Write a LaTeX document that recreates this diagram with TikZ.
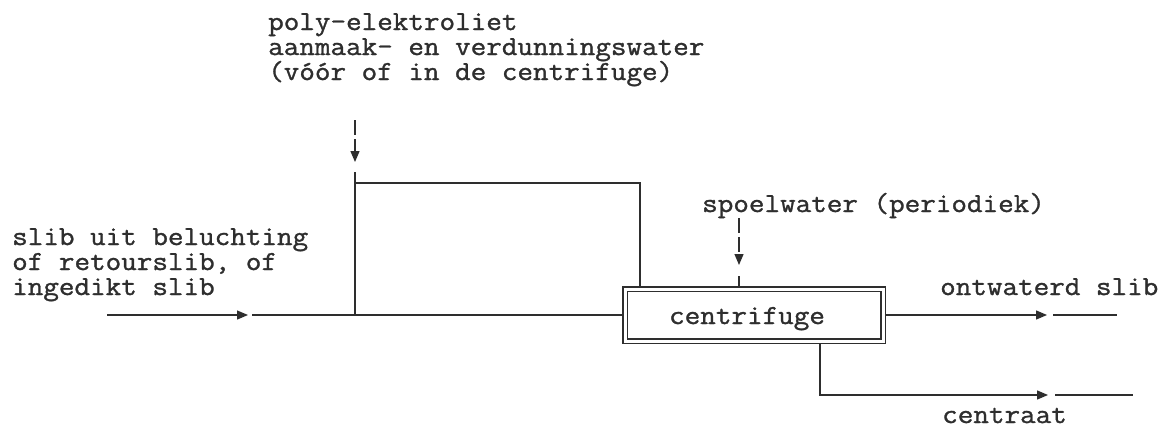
\documentclass[tikz,border=0pt]{standalone}
\usepackage{fontspec}
\newfontfamily\diagtt[FakeStretch=1.1, FakeBold=1.2]{Latin Modern Mono}
\usetikzlibrary{arrows.meta,backgrounds}
\definecolor{ink}{HTML}{2E2E2E}
\begin{document}
\begin{tikzpicture}[x=1pt,y=-1pt,
  lbl/.style={font=\fontsize{27.5}{25.5}\selectfont\diagtt, anchor=base west, inner sep=0pt,
    text height=17pt, text depth=5pt, text=ink},
  flow/.style={line width=1.3pt, draw=ink},
  tipped/.style={flow,-{Triangle[length=11pt,width=9pt]}},
  feed/.style={tipped, dash pattern=on 15pt off 4pt},
  unitbox/.style={draw=ink, line width=1.2pt, double=white, double distance=3pt, fill=white,
    minimum width=258pt, minimum height=52pt, inner sep=0pt}
]
\useasboundingbox (0,0) rectangle (1167,429);

% process unit
\node[unitbox] (cf) at (754,315) {};
\node[lbl, anchor=base] (cft) at (747,324) {centrifuge};

% labels
\node[lbl] (in1) at (12,245) {slib uit beluchting};
\node[lbl] (in2) at (12,270) {of retourslib, of};
\node[lbl] (in3) at (12,295) {ingedikt slib};
\node[lbl] (pe1) at (268,30) {poly-elektroliet};
\node[lbl] (pe2) at (268,55) {aanmaak- en verdunningswater};
\node[lbl] (pe3) at (268,80) {(vóór of in de centrifuge)};
\node[lbl] (sp) at (702,212) {spoelwater (periodiek)};
\node[lbl] (ow) at (940,295) {ontwaterd slib};
\node[lbl] (ct) at (942,423) {centraat};

% connector points
\coordinate (inS) at (107,315);
\coordinate (inT) at (248,315);
\coordinate (inR) at (252,315);
\coordinate (jA) at (355,315);
\coordinate (jTop) at (355,172);
\coordinate (bar) at (355,183);
\coordinate (barR) at (640,183);
\coordinate (pf0) at (355,120);
\coordinate (pfT) at (355,162);
\coordinate (sp0) at (739,218);
\coordinate (spT) at (739,265);
\coordinate (spR) at (739,276);
\coordinate (oT) at (1047,315);
\coordinate (oR) at (1053,315);
\coordinate (oE) at (1117,315);
\coordinate (cDn) at (820,395);
\coordinate (cT) at (1048,395);
\coordinate (cR) at (1055,395);
\coordinate (cE) at (1133,395);

\begin{scope}[on background layer]
  \draw[tipped] (inS) -- (inT);
  \draw[flow] (inR) -- (cf.west);
  \draw[flow] (jA) -- (jTop);
  \draw[flow] (bar) -- (barR) -- (barR |- cf.north);
  \draw[feed] (pf0) -- (pfT);
  \draw[feed] (sp0) -- (spT);
  \draw[flow] (spR) -- (spR |- cf.north);
  \draw[tipped] (cf.east) -- (oT);
  \draw[flow] (oR) -- (oE);
  \draw[tipped] (cDn |- cf.south) -- (cDn) -- (cT);
  \draw[flow] (cR) -- (cE);
\end{scope}
\end{tikzpicture}
\end{document}
